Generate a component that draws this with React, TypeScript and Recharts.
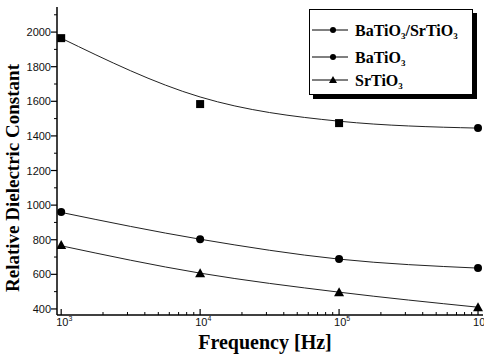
import React from "react";
import { ComposedChart, Line, XAxis, YAxis } from "recharts";

const frequencies = [1e3, 1e4, 1e5, 1e6];
const compositeMeasured = [1965, 1584, 1474, 1445];
const compositeFit = [1965, 1625, 1485, 1445];
const batioMeasured = [960, 803, 688, 636];
const batioFit = [958, 803, 688, 636];
const srtioMeasured = [769, 607, 497, 410];
const srtioFit = [765, 607, 497, 410];

const xMajorTicks = [1e3, 1e4, 1e5, 1e6];
const xMinorTicks = [
  2e3, 3e3, 4e3, 5e3, 6e3, 7e3, 8e3, 9e3,
  2e4, 3e4, 4e4, 5e4, 6e4, 7e4, 8e4, 9e4,
  2e5, 3e5, 4e5, 5e5, 6e5, 7e5, 8e5, 9e5,
];
const xTickExponents = ["3", "4", "5", "6"];
const yMajorTicks = [400, 600, 800, 1000, 1200, 1400, 1600, 1800, 2000];
const yMinorTicks = [500, 700, 900, 1100, 1300, 1500, 1700, 1900, 2100];

const seriesNames = ["BaTiO/SrTiO", "BaTiO", "SrTiO"];

const data = frequencies.map((f, i) => ({
  f,
  composite: compositeMeasured[i],
  compositeFit: compositeFit[i],
  batio: batioMeasured[i],
  batioFit: batioFit[i],
  srtio: srtioMeasured[i],
  srtioFit: srtioFit[i],
}));

const serif = "'Liberation Serif', 'Times New Roman', serif";
const sans = "'Liberation Sans', Arial, sans-serif";

const XTick = (props: any) => {
  const { x, y, payload } = props;
  const idx = xMajorTicks.indexOf(payload.value);
  if (idx < 0) {
    return <line x1={x} x2={x} y1={y} y2={y - 3} stroke="#000" strokeWidth={1} />;
  }
  return (
    <g>
      <line x1={x} x2={x} y1={y} y2={y - 6} stroke="#000" strokeWidth={1.2} />
      <text x={x - 5} y={y + 11} fontFamily={sans} fontSize={11} fill="#111">
        10
        <tspan fontSize={7} dy={-5}>{xTickExponents[idx]}</tspan>
      </text>
    </g>
  );
};

const YTick = (props: any) => {
  const { x, y, payload } = props;
  const major = yMajorTicks.includes(payload.value);
  if (!major) {
    return <line x1={x} x2={x - 3} y1={y} y2={y} stroke="#000" strokeWidth={1} />;
  }
  return (
    <g>
      <line x1={x} x2={x - 6} y1={y} y2={y} stroke="#000" strokeWidth={1.2} />
      <text x={x - 6} y={y + 4} textAnchor="end" fontFamily={sans} fontSize={11} fill="#111">
        {payload.value}
      </text>
    </g>
  );
};

const compositeDot = (props: any) => {
  const { cx, cy, index } = props;
  if (index === 3) return <circle key={index} cx={cx} cy={cy} r={4} fill="#000" />;
  return <rect key={index} x={cx - 4} y={cy - 4} width={8} height={8} fill="#000" />;
};
const circleDot = (props: any) => (
  <circle key={props.index} cx={props.cx} cy={props.cy} r={4} fill="#000" />
);
const triangleDot = (props: any) => {
  const { cx, cy, index } = props;
  return (
    <polygon key={index} points={`${cx},${cy - 5} ${cx - 5},${cy + 4} ${cx + 5},${cy + 4}`} fill="#000" />
  );
};

const LegendBox = () => {
  const rows = [
    { y: 21, marker: "circle" },
    { y: 48, marker: "circle" },
    { y: 71, marker: "triangle" },
  ];
  return (
    <div style={{ position: "absolute", left: 309, top: 9, width: 164, height: 86 }}>
      <div style={{ position: "absolute", left: 4, top: 4, width: 164, height: 86, background: "#000" }} />
      <div style={{ position: "absolute", left: 0, top: 0, width: 162, height: 84, background: "#fff", border: "1px solid #000" }} />
      <svg width={168} height={90} style={{ position: "absolute", left: 0, top: 0 }}>
        {rows.map((r, i) => (
          <g key={i}>
            <line x1={3} x2={39} y1={r.y} y2={r.y} stroke="#000" strokeWidth={1} />
            {r.marker === "circle" ? (
              <circle cx={24} cy={r.y} r={3} fill="#000" />
            ) : (
              <polygon points={`24,${r.y - 4} 20,${r.y + 3} 28,${r.y + 3}`} fill="#000" />
            )}
            <text x={46} y={r.y + 6} fontFamily={serif} fontWeight="bold" fontSize={16} fill="#000">
              {i === 0 ? (
                <>
                  BaTiO<tspan fontSize={9} dy={3}>3</tspan>
                  <tspan dy={-3}>/SrTiO</tspan>
                  <tspan fontSize={9} dy={3}>3</tspan>
                </>
              ) : (
                <>
                  {seriesNames[i]}
                  <tspan fontSize={9} dy={3}>3</tspan>
                </>
              )}
            </text>
          </g>
        ))}
      </svg>
    </div>
  );
};

export default function App() {
  return (
    <div style={{ position: "absolute", left: 0, top: 0, width: 484, height: 356, background: "#fff" }}>
      <ComposedChart width={484} height={356} data={data} margin={{ top: 7, right: 1, left: 0, bottom: 0 }}>
        <XAxis
          dataKey="f"
          type="number"
          scale="log"
          domain={[933, 1086000]}
          allowDataOverflow
          ticks={[...xMajorTicks, ...xMinorTicks]}
          interval={0}
          tick={<XTick />}
          tickLine={false}
          tickSize={0}
          tickMargin={0}
          height={41}
          axisLine={{ stroke: "#000", strokeWidth: 1.5 }}
        />
        <XAxis
          xAxisId="top"
          orientation="top"
          dataKey="f"
          type="number"
          scale="log"
          domain={[933, 1086000]}
          allowDataOverflow
          tick={false}
          tickLine={false}
          height={0}
          axisLine={{ stroke: "#000", strokeWidth: 1.5 }}
        />
        <YAxis
          type="number"
          domain={[365, 2145]}
          allowDataOverflow
          ticks={[...yMajorTicks, ...yMinorTicks]}
          interval={0}
          tick={<YTick />}
          tickLine={false}
          tickSize={0}
          tickMargin={0}
          width={57}
          axisLine={{ stroke: "#000", strokeWidth: 1.5 }}
        />
        <YAxis
          yAxisId="right"
          orientation="right"
          domain={[365, 2145]}
          tick={false}
          tickLine={false}
          width={0}
          axisLine={{ stroke: "#000", strokeWidth: 1.5 }}
        />
        <Line dataKey="compositeFit" type="monotone" stroke="#222" strokeWidth={1} dot={false} isAnimationActive={false} />
        <Line dataKey="batioFit" type="monotone" stroke="#222" strokeWidth={1} dot={false} isAnimationActive={false} />
        <Line dataKey="srtioFit" type="monotone" stroke="#222" strokeWidth={1} dot={false} isAnimationActive={false} />
        <Line dataKey="composite" stroke="none" dot={compositeDot} activeDot={false} isAnimationActive={false} />
        <Line dataKey="batio" stroke="none" dot={circleDot} activeDot={false} isAnimationActive={false} />
        <Line dataKey="srtio" stroke="none" dot={triangleDot} activeDot={false} isAnimationActive={false} />
      </ComposedChart>
      <svg width={484} height={356} style={{ position: "absolute", left: 0, top: 0, pointerEvents: "none" }}>
        <text
          transform="translate(13,178) rotate(-90)"
          x={0}
          y={6}
          textAnchor="middle"
          fontFamily={serif}
          fontWeight="bold"
          fontSize={19}
          fill="#000"
        >
          Relative Dielectric Constant
        </text>
        <text x={265} y={349} textAnchor="middle" fontFamily={serif} fontWeight="bold" fontSize={20} fill="#000">
          Frequency [Hz]
        </text>
      </svg>
      <LegendBox />
    </div>
  );
}
